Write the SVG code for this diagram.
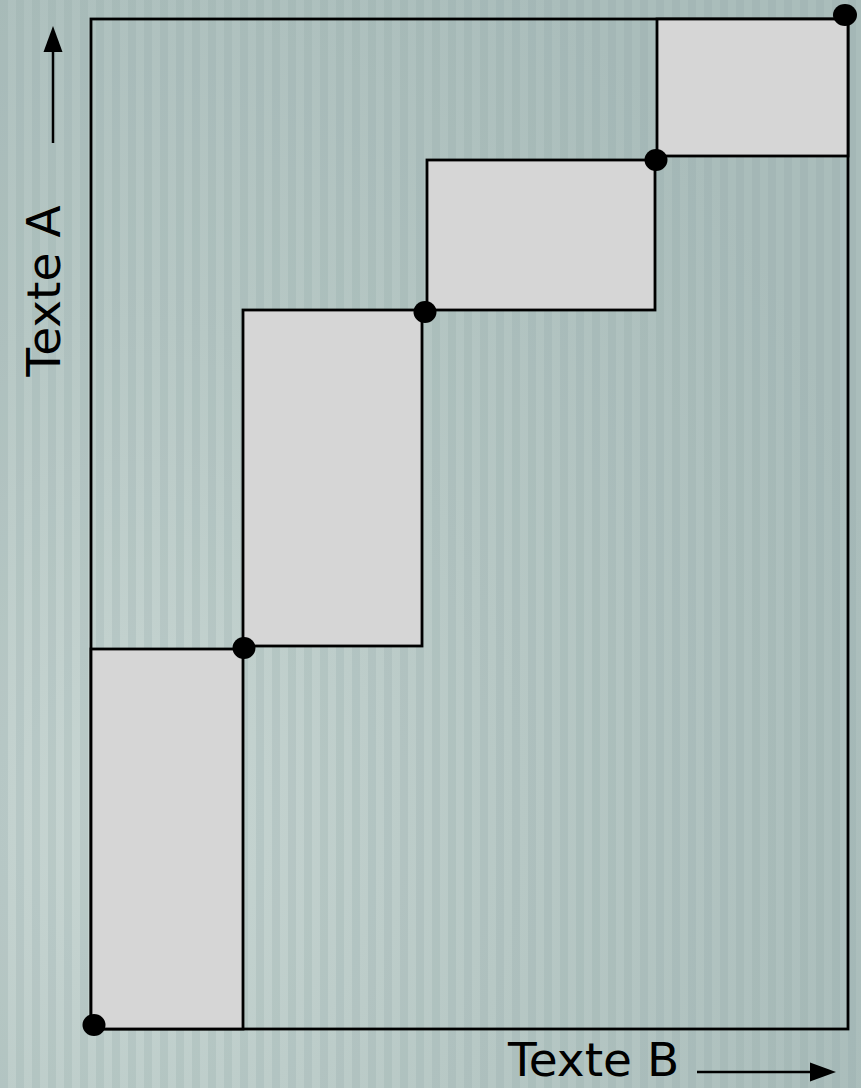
<svg xmlns="http://www.w3.org/2000/svg" width="861" height="1088" viewBox="0 0 861 1088">
  <defs>
    <radialGradient id="bgGlow" cx="0.15" cy="0.75" r="0.9">
      <stop offset="0" stop-color="#c8d6d3"/>
      <stop offset="0.5" stop-color="#b7c8c5"/>
      <stop offset="1" stop-color="#aabdbb"/>
    </radialGradient>
    <pattern id="stripes" x="0" y="0" width="16" height="16" patternUnits="userSpaceOnUse">
      <rect x="0" y="0" width="8" height="16" fill="#8ea5a3" opacity="0.22"/>
    </pattern>
  </defs>
  <style>
    .box { fill: #d6d6d6; stroke: #000; stroke-width: 2.8; }
    .frame { fill: none; stroke: #000; stroke-width: 2.8; }
    .dot { fill: #000; }
    .label { font-family: "DejaVu Sans", "Liberation Sans", sans-serif; font-size: 47px; fill: #000; }
    .axis { stroke: #000; stroke-width: 2.5; fill: none; }
    .head { fill: #000; }
  </style>

  <rect x="0" y="0" width="861" height="1088" fill="url(#bgGlow)"/>
  <rect x="0" y="0" width="861" height="1088" fill="url(#stripes)"/>

  <g id="frame">
    <rect class="frame" x="91" y="19" width="757" height="1010"/>
  </g>

  <g id="box1">
    <rect class="box" x="91" y="649" width="152" height="380"/>
  </g>
  <g id="box2">
    <rect class="box" x="243" y="310" width="179" height="336"/>
  </g>
  <g id="box3">
    <rect class="box" x="427" y="160" width="228" height="150"/>
  </g>
  <g id="box4">
    <rect class="box" x="657" y="19" width="191" height="137"/>
  </g>

  <g id="points">
    <ellipse class="dot" cx="94" cy="1025" rx="11.5" ry="11"/>
    <ellipse class="dot" cx="244" cy="648" rx="11.5" ry="11"/>
    <ellipse class="dot" cx="425" cy="312" rx="11.5" ry="11"/>
    <ellipse class="dot" cx="656" cy="160" rx="11.5" ry="11"/>
    <ellipse class="dot" cx="845" cy="15" rx="12" ry="11"/>
  </g>

  <g id="connectors">
    <line class="axis" x1="53" y1="143" x2="53" y2="50"/>
    <polygon class="head" points="53,26 43.5,52 62.5,52"/>
    <line class="axis" x1="697" y1="1072" x2="812" y2="1072"/>
    <polygon class="head" points="836,1072 810,1062.5 810,1081.5"/>
  </g>

  <g id="label-a">
    <text class="label" transform="translate(60,291) rotate(-90)" text-anchor="middle">Texte A</text>
  </g>
  <g id="label-b">
    <text class="label" x="508" y="1076">Texte B</text>
  </g>
</svg>
